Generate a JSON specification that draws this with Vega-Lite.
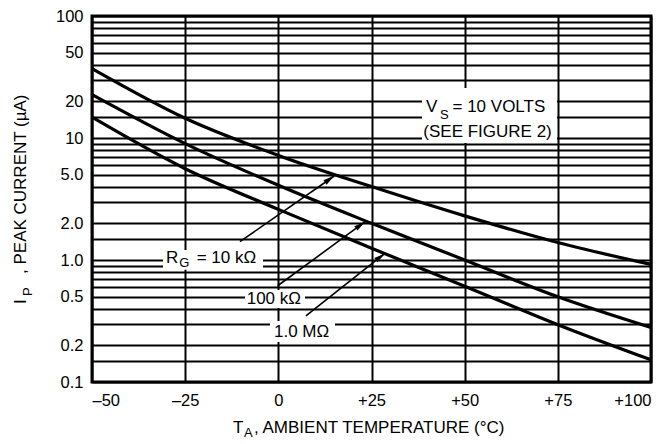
{
  "$schema": "https://vega.github.io/schema/vega-lite/v6.json",
  "width": 559,
  "height": 366,
  "autosize": "none",
  "padding": {"left": 92, "top": 16, "right": 20, "bottom": 62},
  "background": "white",
  "view": {"stroke": "black", "strokeWidth": 3},
  "config": {"font": "Liberation Sans"},
  "datasets": {
    "curves": [
      {"rg": "10 kΩ", "t": -50, "ip": 37},
      {"rg": "10 kΩ", "t": -25, "ip": 14.5},
      {"rg": "10 kΩ", "t": 0, "ip": 7.2},
      {"rg": "10 kΩ", "t": 25, "ip": 4.0},
      {"rg": "10 kΩ", "t": 50, "ip": 2.3},
      {"rg": "10 kΩ", "t": 75, "ip": 1.39},
      {"rg": "10 kΩ", "t": 100, "ip": 0.92},
      {"rg": "100 kΩ", "t": -50, "ip": 22.7},
      {"rg": "100 kΩ", "t": -25, "ip": 9.0},
      {"rg": "100 kΩ", "t": 0, "ip": 4.1},
      {"rg": "100 kΩ", "t": 25, "ip": 2.0},
      {"rg": "100 kΩ", "t": 50, "ip": 1.0},
      {"rg": "100 kΩ", "t": 75, "ip": 0.5},
      {"rg": "100 kΩ", "t": 100, "ip": 0.28},
      {"rg": "1.0 MΩ", "t": -50, "ip": 14.8},
      {"rg": "1.0 MΩ", "t": -25, "ip": 5.6},
      {"rg": "1.0 MΩ", "t": 0, "ip": 2.6},
      {"rg": "1.0 MΩ", "t": 25, "ip": 1.25},
      {"rg": "1.0 MΩ", "t": 50, "ip": 0.61},
      {"rg": "1.0 MΩ", "t": 75, "ip": 0.295},
      {"rg": "1.0 MΩ", "t": 100, "ip": 0.152}
    ],
    "boxes": [
      {"t": -30.95, "t2": -4.11, "ip": 0.83, "ip2": 1.208},
      {"t": -8.94, "t2": 7.16, "ip": 0.404, "ip2": 0.568},
      {"t": -2.24, "t2": 15.2, "ip": 0.213, "ip2": 0.316},
      {"t": 38.55, "t2": 74.78, "ip": 9.1, "ip2": 25.7}
    ],
    "arrows": [
      {"arrow": "a1", "t": -10.3, "ip": 1.413},
      {"arrow": "a1", "t": 15.0, "ip": 4.88},
      {"arrow": "a2", "t": -0.17, "ip": 0.615},
      {"arrow": "a2", "t": 23.3, "ip": 2.06},
      {"arrow": "a3", "t": 7.4, "ip": 0.349},
      {"arrow": "a3", "t": 28.6, "ip": 1.135}
    ],
    "heads": [
      {"t": 13.7, "ip": 4.58},
      {"t": 21.97, "ip": 1.928},
      {"t": 27.36, "ip": 1.058}
    ],
    "labels": [
      {"t": -30.14, "ip": 1.032, "label": "R"},
      {"t": -21.91, "ip": 1.032, "label": "= 10 kΩ"},
      {"t": -8.49, "ip": 0.479, "label": "100 kΩ"},
      {"t": -1.16, "ip": 0.258, "label": "1.0 MΩ"},
      {"t": 39.63, "ip": 18.07, "label": "V"},
      {"t": 46.74, "ip": 18.07, "label": "= 10 VOLTS"},
      {"t": 38.9, "ip": 11.26, "label": "(SEE FIGURE 2)"},
      {"t": -12.16, "ip": 0.042, "label": "T"},
      {"t": -6.53, "ip": 0.042, "label": ", AMBIENT TEMPERATURE (°C)"}
    ],
    "subs": [
      {"t": -26.57, "ip": 0.939, "label": "G"},
      {"t": 43.38, "ip": 15.45, "label": "S"},
      {"t": -9.21, "ip": 0.0382, "label": "A"}
    ],
    "ytitle": [
      {"t": -69.05, "ip": 0.436, "label": "I"},
      {"t": -69.05, "ip": 0.768, "label": ", PEAK CURRENT (µA)"}
    ],
    "ysub": [
      {"t": -67.17, "ip": 0.507, "label": "P"}
    ]
  },
  "encoding": {
    "x": {
      "field": "t",
      "type": "quantitative",
      "scale": {"domain": [-50, 100], "nice": false, "zero": false},
      "axis": {
        "values": [-50, -25, 0, 25, 50, 75, 100],
        "title": null,
        "grid": true,
        "gridColor": "black",
        "gridWidth": 2,
        "gridOpacity": 1,
        "ticks": false,
        "domain": false,
        "labelFontSize": 16.5,
        "labelColor": "black",
        "labelPadding": 10,
        "labelExpr": "datum.value > 0 ? '+' + datum.value : (datum.value < 0 ? '–' + abs(datum.value) : '0')"
      }
    },
    "y": {
      "field": "ip",
      "type": "quantitative",
      "scale": {"type": "log", "domain": [0.1, 100], "nice": false},
      "axis": {
        "values": [0.1, 0.15, 0.2, 0.3, 0.4, 0.5, 0.6, 0.7, 0.8, 0.9, 1, 1.5, 2, 3, 4, 5, 6, 7, 8, 9, 10, 15, 20, 30, 40, 50, 60, 70, 80, 90, 100],
        "title": null,
        "grid": true,
        "gridColor": "black",
        "gridWidth": 1.8,
        "gridOpacity": 1,
        "ticks": false,
        "domain": false,
        "labelFontSize": 16.5,
        "labelColor": "black",
        "labelPadding": 9,
        "labelExpr": "datum.value == 0.1 ? '0.1' : datum.value == 0.2 ? '0.2' : datum.value == 0.5 ? '0.5' : datum.value == 1 ? '1.0' : datum.value == 2 ? '2.0' : datum.value == 5 ? '5.0' : datum.value == 10 ? '10' : datum.value == 20 ? '20' : datum.value == 50 ? '50' : datum.value == 100 ? '100' : ''"
      }
    }
  },
  "layer": [
    {
      "data": {"name": "boxes"},
      "mark": {"type": "rect", "fill": "white", "stroke": null},
      "encoding": {
        "x2": {"field": "t2"},
        "y2": {"field": "ip2"}
      }
    },
    {
      "data": {"name": "curves"},
      "mark": {"type": "line", "color": "black", "strokeWidth": 3.2, "interpolate": "monotone"},
      "encoding": {"detail": {"field": "rg", "type": "nominal"}}
    },
    {
      "data": {"name": "arrows"},
      "mark": {"type": "line", "color": "black", "strokeWidth": 1.6},
      "encoding": {"detail": {"field": "arrow", "type": "nominal"}}
    },
    {
      "data": {"name": "heads"},
      "mark": {"type": "point", "shape": "M0,-1L0.45,0.9L-0.45,0.9Z", "size": 144, "angle": 54, "filled": true, "color": "black", "opacity": 1}
    },
    {
      "data": {"name": "labels"},
      "mark": {"type": "text", "align": "left", "baseline": "middle", "fontSize": 17, "color": "black"},
      "encoding": {"text": {"field": "label"}}
    },
    {
      "data": {"name": "subs"},
      "mark": {"type": "text", "align": "left", "baseline": "middle", "fontSize": 13, "color": "black"},
      "encoding": {"text": {"field": "label"}}
    },
    {
      "data": {"name": "ytitle"},
      "mark": {"type": "text", "align": "left", "baseline": "middle", "fontSize": 17, "angle": 270, "color": "black"},
      "encoding": {"text": {"field": "label"}}
    },
    {
      "data": {"name": "ysub"},
      "mark": {"type": "text", "align": "left", "baseline": "middle", "fontSize": 13, "angle": 270, "color": "black"},
      "encoding": {"text": {"field": "label"}}
    }
  ]
}
